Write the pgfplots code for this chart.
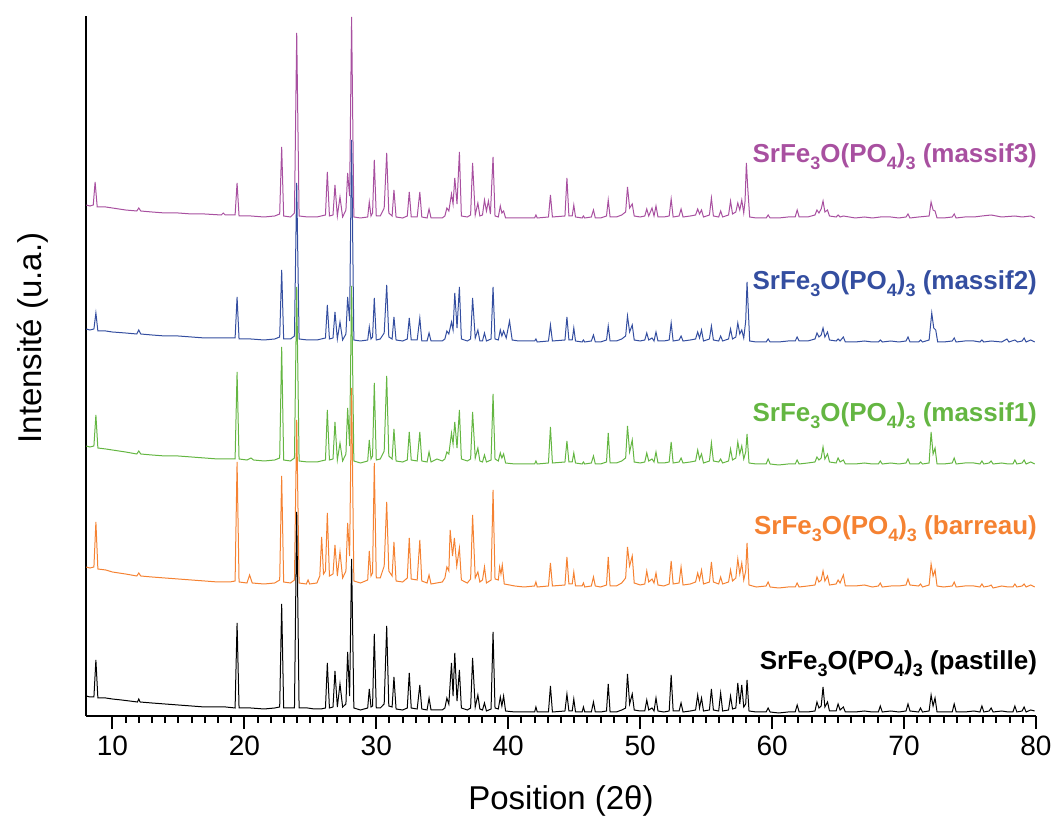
\documentclass[border=0pt]{standalone}
\usepackage{fontspec}
\setmainfont{Liberation Sans}
\usepackage{pgfplots}
\pgfplotsset{compat=1.18}
\definecolor{cmag}{RGB}{168,80,160}
\definecolor{cblue}{RGB}{52,78,160}
\definecolor{cgreen}{RGB}{100,182,66}
\definecolor{corange}{RGB}{245,130,50}
\newcommand{\sub}[1]{\raisebox{-0.45ex}{\fontsize{9}{10}\selectfont #1}}
\begin{document}
\begin{tikzpicture}
\useasboundingbox (-43pt,-54pt) rectangle (484.5pt,358pt);
\begin{axis}[
 scale only axis, width=475pt, height=350pt,
 xmin=8, xmax=80, ymin=0, ymax=700,
 axis x line*=bottom, axis y line*=left,
 axis line style={line width=1.3pt,-},
 xtick={10,20,...,80}, minor x tick num=9, ytick=\empty,
 tick align=outside,
 major tick length=6.5pt, minor tick length=3.5pt,
 every tick/.style={black, line width=1pt},
 tick label style={font=\fontsize{14}{15}\selectfont},
 /pgf/number format/assume math mode=true,
 xlabel={Position (2θ)}, ylabel={Intensité (u.a.)},
 label style={font=\fontsize{16.5}{19}\selectfont},
 xlabel style={at={(axis description cs:0.5,-0.122)}, anchor=center},
 ylabel style={at={(axis description cs:-0.056,0.54)}, anchor=center},
 every axis plot/.append style={line width=0.5pt},
]
% massif3
\addplot[cmag] coordinates {(8.02,511) (8.3,510) (8.55,511) (8.69,534) (8.85,509) (9.5,509) (10,508) (11,506) (11.85,505) (12.0,508) (12.15,505) (13,504) (14,503) (15,503) (16,502) (17,502) (18.25,501) (18.4,503) (18.55,501) (19.3,501) (19.45,533) (19.6,500) (20.5,500) (21.5,499) (22.3,500) (22.68,502) (22.83,569) (22.98,500) (23.5,499) (23.8,503) (23.97,683) (24.15,500) (24.8,499) (25.5,499) (26.15,501) (26.29,544) (26.45,500) (26.72,501) (26.87,531) (27.05,500) (27.25,519) (27.45,499) (27.7,506) (27.83,543) (27.98,520) (28.13,699) (28.3,499) (28.8,498) (29.35,499) (29.47,514) (29.6,500) (29.72,503) (29.85,556) (30.0,500) (30.3,500) (30.6,508) (30.79,563) (30.95,503) (31.2,500) (31.34,526) (31.5,499) (32.0,498) (32.35,500) (32.5,524) (32.65,499) (33.1,499) (33.3,524) (33.45,499) (33.85,498) (34.0,507) (34.15,498) (35.0,498) (35.2,500) (35.35,508) (35.5,505) (35.7,522) (35.82,512) (35.95,538) (36.12,512) (36.3,564) (36.45,500) (36.9,499) (37.15,501) (37.3,553) (37.5,501) (37.7,513) (37.85,500) (38.05,501) (38.2,516) (38.35,505) (38.5,515) (38.65,502) (38.85,559) (39.0,500) (39.25,499) (39.4,510) (39.52,503) (39.65,505) (39.8,498) (40.5,498) (41.2,498) (42.0,498) (42.1,501) (42.2,498) (43.05,499) (43.2,521) (43.35,499) (44.3,500) (44.45,538) (44.6,500) (44.85,500) (44.97,511) (45.1,499) (45.6,498) (45.7,500) (45.8,498) (46.3,499) (46.46,506) (46.6,498) (47.0,498) (47.45,500) (47.58,516) (47.72,499) (48.2,499) (48.6,501) (48.9,504) (49.04,529) (49.2,508) (49.4,512) (49.55,500) (50.0,499) (50.35,500) (50.5,507) (50.65,500) (50.9,508) (51.05,500) (51.2,510) (51.35,499) (51.8,499) (52.2,500) (52.35,517) (52.5,499) (52.95,500) (53.1,507) (53.25,499) (53.8,500) (54.2,501) (54.36,507) (54.5,502) (54.65,506) (54.8,499) (55.25,501) (55.4,518) (55.55,500) (55.95,499) (56.1,505) (56.25,499) (56.7,501) (56.85,515) (57.0,502) (57.25,504) (57.4,513) (57.55,506) (57.7,516) (57.85,503) (57.95,515) (58.05,553) (58.15,529) (58.3,499) (58.8,498) (59.55,498) (59.7,501) (59.85,498) (60.5,498) (61.2,499) (61.75,499) (61.9,506) (62.05,499) (62.7,499) (63.25,501) (63.4,506) (63.55,503) (63.72,507) (63.86,515) (64.0,504) (64.2,506) (64.35,500) (64.85,499) (65.0,501) (65.15,499) (65.4,500) (66.3,498) (67.0,499) (67.6,498) (68.2,499) (69.0,499) (69.6,498) (70.15,499) (70.3,502) (70.45,498) (71.1,499) (71.9,500) (72.05,514) (72.2,506) (72.35,505) (72.5,498) (73.0,498) (73.65,499) (73.8,502) (73.95,498) (74.6,499) (75.3,499) (75.9,500) (76.6,501) (77.4,499) (78.4,500) (78.95,499) (79.6,500) (79.9,498)};
% massif2
\addplot[cblue] coordinates {(8.02,387) (8.3,386) (8.6,387) (8.75,403) (8.9,385) (9.5,385) (10,384) (11,383) (11.85,382) (12.0,386) (12.15,382) (13,381) (14,380) (15,380) (16,379) (17,378) (18,378) (18.9,378) (19.3,378) (19.45,419) (19.6,377) (20.5,377) (21.5,376) (22.3,377) (22.68,379) (22.83,446) (22.98,377) (23.5,377) (23.8,380) (23.97,533) (24.15,377) (24.8,376) (25.5,376) (26.15,378) (26.29,411) (26.45,377) (26.72,378) (26.87,404) (27.05,377) (27.25,394) (27.45,376) (27.7,382) (27.83,419) (27.98,395) (28.13,576) (28.3,376) (28.8,375) (29.35,376) (29.47,389) (29.6,377) (29.72,379) (29.85,418) (30.0,376) (30.3,377) (30.6,383) (30.79,431) (30.95,379) (31.2,377) (31.34,399) (31.5,376) (32.0,375) (32.35,377) (32.5,398) (32.65,376) (33.1,376) (33.3,398) (33.45,375) (33.85,375) (34.0,383) (34.15,375) (35.0,375) (35.2,377) (35.35,385) (35.5,382) (35.7,394) (35.82,386) (35.95,423) (36.12,388) (36.3,429) (36.45,377) (36.9,375) (37.15,377) (37.3,418) (37.5,378) (37.7,386) (37.85,375) (38.05,375) (38.2,383) (38.35,375) (38.7,377) (38.85,429) (39.0,377) (39.25,376) (39.4,386) (39.52,380) (39.65,385) (39.85,378) (40.1,395) (40.3,376) (40.8,375) (41.5,375) (42.0,375) (42.1,377) (42.2,374) (43.05,375) (43.2,391) (43.35,375) (44.3,376) (44.45,399) (44.6,376) (44.85,376) (44.97,388) (45.1,375) (45.6,374) (45.7,376) (45.8,374) (46.3,375) (46.46,381) (46.6,374) (47.0,374) (47.45,376) (47.58,390) (47.72,375) (48.2,375) (48.6,377) (48.9,380) (49.04,400) (49.2,384) (49.4,391) (49.55,376) (50.0,375) (50.35,376) (50.5,383) (50.65,376) (50.9,378) (51.05,375) (51.2,384) (51.35,375) (51.8,375) (52.2,376) (52.35,393) (52.5,375) (52.95,376) (53.1,380) (53.25,375) (53.8,376) (54.2,377) (54.36,384) (54.5,378) (54.65,386) (54.8,375) (55.25,377) (55.4,390) (55.55,376) (55.95,375) (56.1,380) (56.25,375) (56.7,377) (56.85,387) (57.0,377) (57.25,379) (57.4,393) (57.55,382) (57.7,386) (57.85,378) (58.0,395) (58.1,434) (58.2,405) (58.3,375) (58.8,374) (59.55,374) (59.7,377) (59.85,374) (60.5,374) (61.2,375) (61.75,375) (61.9,379) (62.05,375) (62.7,375) (63.25,377) (63.4,383) (63.55,379) (63.72,381) (63.86,388) (64.0,379) (64.2,384) (64.35,376) (64.85,375) (65.0,377) (65.15,375) (65.4,379) (65.55,374) (66.3,374) (67.0,375) (67.6,374) (68.05,374) (68.2,376) (68.35,374) (69.0,375) (69.6,374) (70.15,375) (70.3,379) (70.45,374) (71.1,374) (71.25,376) (71.4,374) (71.9,376) (72.1,403) (72.25,388) (72.4,386) (72.55,374) (73.0,374) (73.65,375) (73.8,378) (73.95,374) (74.6,375) (75.3,375) (75.75,374) (75.9,376) (76.05,374) (76.6,375) (77.4,374) (77.8,377) (77.95,374) (78.4,376) (78.6,374) (78.95,375) (79.1,378) (79.25,374) (79.6,376) (79.9,374)};
% massif1
\addplot[cgreen] coordinates {(8.02,270) (8.3,269) (8.6,270) (8.75,301) (8.9,268) (9.5,267) (10,266) (11,264) (11.85,262) (12.0,265) (12.15,262) (13,261) (14,260) (15,260) (16,259) (17,258) (18,257) (18.9,257) (19.3,257) (19.45,344) (19.6,257) (20.2,256) (20.5,258) (20.7,256) (21.5,255) (22.3,256) (22.68,258) (22.83,369) (22.98,256) (23.5,255) (23.8,258) (23.97,429) (24.15,255) (24.8,254) (25.5,254) (26.15,256) (26.29,306) (26.45,256) (26.72,257) (26.87,294) (27.05,256) (27.25,273) (27.45,255) (27.7,262) (27.83,308) (27.98,270) (28.13,430) (28.3,255) (28.8,253) (29.35,255) (29.47,276) (29.6,257) (29.72,260) (29.85,333) (30.0,256) (30.3,257) (30.6,265) (30.79,340) (30.95,260) (31.2,257) (31.34,287) (31.5,255) (32.0,254) (32.35,256) (32.5,284) (32.65,256) (33.1,255) (33.3,284) (33.45,255) (33.85,254) (34.0,264) (34.15,254) (34.6,257) (35.0,255) (35.2,257) (35.35,264) (35.5,262) (35.7,283) (35.82,272) (35.95,294) (36.12,268) (36.3,306) (36.45,257) (36.9,255) (37.15,257) (37.3,304) (37.5,258) (37.7,268) (37.85,255) (38.05,254) (38.2,261) (38.35,254) (38.7,256) (38.85,322) (39.0,257) (39.25,255) (39.4,263) (39.52,258) (39.65,262) (39.8,253) (40.5,252) (41.2,252) (42.0,252) (42.1,255) (42.2,252) (43.05,253) (43.2,289) (43.35,253) (44.3,254) (44.45,275) (44.6,254) (44.85,254) (44.97,263) (45.1,253) (45.6,252) (45.7,254) (45.8,252) (46.3,253) (46.46,260) (46.6,252) (47.0,252) (47.45,254) (47.58,283) (47.72,253) (48.2,253) (48.6,255) (48.9,258) (49.04,290) (49.2,264) (49.4,276) (49.55,254) (50.0,253) (50.35,254) (50.5,263) (50.65,255) (50.9,257) (51.05,254) (51.2,264) (51.35,253) (51.8,253) (52.2,254) (52.35,274) (52.5,253) (52.95,254) (53.1,258) (53.25,253) (53.8,254) (54.2,255) (54.36,266) (54.5,257) (54.65,262) (54.8,253) (55.25,255) (55.4,273) (55.55,255) (55.95,254) (56.1,257) (56.25,253) (56.7,255) (56.85,267) (57.0,256) (57.25,258) (57.4,274) (57.55,262) (57.7,270) (57.85,257) (58.0,264) (58.1,282) (58.25,253) (58.8,252) (59.55,252) (59.7,257) (59.85,252) (60.5,251) (61.2,252) (61.75,252) (61.9,256) (62.05,252) (62.7,253) (63.25,254) (63.4,259) (63.55,256) (63.72,258) (63.86,269) (64.0,257) (64.2,262) (64.35,254) (64.85,253) (65.0,258) (65.15,254) (65.4,256) (65.55,252) (66.3,252) (67.0,253) (67.6,252) (68.05,252) (68.2,255) (68.35,252) (69.0,253) (69.6,252) (70.15,253) (70.3,257) (70.45,252) (71.1,252) (71.25,254) (71.4,252) (71.9,253) (72.05,284) (72.2,262) (72.35,268) (72.5,252) (73.0,252) (73.65,253) (73.8,258) (73.95,252) (74.6,253) (75.3,253) (75.75,252) (75.9,255) (76.05,252) (76.45,253) (76.6,255) (76.75,252) (77.4,253) (77.9,252) (78.25,252) (78.4,256) (78.55,252) (78.95,253) (79.1,256) (79.25,252) (79.6,254) (79.9,252)};
% barreau
\addplot[corange] coordinates {(8.02,149) (8.3,148) (8.6,149) (8.75,194) (8.9,147) (9.5,146) (10,144) (11,142) (11.85,140) (12.0,143) (12.15,140) (13,139) (14,138) (15,137) (16,136) (17,135) (18,134) (18.9,134) (19.3,135) (19.45,254) (19.6,134) (20.2,133) (20.4,141) (20.6,133) (21.5,132) (22.3,133) (22.68,136) (22.83,240) (22.98,134) (23.5,133) (23.8,136) (23.97,296) (24.15,133) (24.7,132) (24.83,136) (24.95,132) (25.5,133) (25.72,140) (25.86,179) (26.0,142) (26.15,145) (26.29,203) (26.45,140) (26.72,142) (26.87,171) (27.05,140) (27.25,164) (27.45,138) (27.7,145) (27.83,193) (27.98,160) (28.13,328) (28.3,135) (28.8,133) (29.35,136) (29.47,165) (29.6,140) (29.72,143) (29.85,253) (30.0,138) (30.3,138) (30.6,150) (30.79,214) (30.95,145) (31.2,140) (31.34,174) (31.5,135) (32.0,134) (32.35,138) (32.5,178) (32.65,137) (33.1,136) (33.3,176) (33.45,135) (33.85,133) (34.0,141) (34.15,132) (35.0,134) (35.2,138) (35.35,149) (35.5,145) (35.6,186) (35.78,160) (35.92,178) (36.1,150) (36.3,168) (36.45,136) (36.9,133) (37.15,137) (37.3,201) (37.5,138) (37.7,144) (37.85,134) (38.05,136) (38.2,149) (38.35,133) (38.7,136) (38.85,226) (39.0,137) (39.25,136) (39.35,149) (39.45,142) (39.55,151) (39.7,132) (40.5,130) (41.2,129) (42.0,130) (42.1,134) (42.2,129) (43.05,130) (43.2,153) (43.35,130) (44.3,131) (44.45,159) (44.6,132) (44.85,132) (44.97,144) (45.1,130) (45.6,130) (45.7,133) (45.8,129) (46.3,130) (46.46,139) (46.6,130) (47.0,129) (47.45,131) (47.58,159) (47.72,130) (48.2,130) (48.6,133) (48.9,138) (49.04,169) (49.2,150) (49.4,160) (49.55,133) (50.0,131) (50.35,132) (50.5,145) (50.65,134) (50.9,137) (51.05,133) (51.2,143) (51.35,131) (51.8,130) (52.2,132) (52.35,155) (52.5,132) (52.95,133) (53.1,149) (53.25,131) (53.8,132) (54.2,134) (54.36,143) (54.5,136) (54.65,146) (54.8,132) (55.25,134) (55.4,154) (55.55,134) (55.95,132) (56.1,139) (56.25,132) (56.7,134) (56.85,146) (57.0,135) (57.25,138) (57.4,157) (57.55,142) (57.7,153) (57.85,136) (58.0,145) (58.1,173) (58.25,131) (58.8,129) (59.55,130) (59.7,134) (59.85,129) (60.5,128) (61.2,129) (61.75,129) (61.9,133) (62.05,129) (62.7,130) (63.25,131) (63.4,139) (63.55,134) (63.72,136) (63.86,145) (64.0,135) (64.2,140) (64.35,131) (64.85,132) (65.0,136) (65.15,133) (65.4,141) (65.55,130) (66.3,130) (67.0,131) (67.6,129) (68.05,130) (68.2,133) (68.35,129) (69.0,130) (69.6,130) (70.15,131) (70.3,137) (70.45,131) (71.1,130) (71.25,132) (71.4,129) (71.9,131) (72.05,152) (72.2,140) (72.35,146) (72.5,130) (73.0,129) (73.65,130) (73.8,134) (73.95,129) (74.6,130) (75.3,130) (75.75,129) (75.9,132) (76.05,129) (76.45,130) (76.6,131) (76.75,128) (77.4,130) (77.9,129) (78.25,129) (78.4,132) (78.55,129) (78.95,130) (79.1,132) (79.25,129) (79.6,131) (79.9,129)};
% pastille
\addplot[black] coordinates {(8.02,20) (8.3,19) (8.6,19) (8.75,56) (8.9,18) (9.5,18) (10,17) (10.7,16) (11.3,15) (11.9,14) (12.0,17) (12.1,14) (13,13) (14,12) (15,11) (16,10) (17,9) (18,9) (18.6,9) (19.3,8) (19.45,93) (19.6,8) (20.5,8) (21.5,7) (22.3,8) (22.68,9) (22.83,112) (22.98,8) (23.5,8) (23.8,8) (23.97,204) (24.15,8) (24.8,8) (25.3,7) (25.8,7) (26.15,8) (26.29,53) (26.45,8) (26.72,9) (26.87,45) (27.05,9) (27.25,32) (27.45,9) (27.7,12) (27.83,64) (27.98,20) (28.13,157) (28.3,8) (28.8,6) (29.35,8) (29.47,27) (29.6,9) (29.72,10) (29.85,82) (30.0,8) (30.3,8) (30.6,12) (30.79,90) (30.95,10) (31.2,9) (31.34,39) (31.5,7) (32.0,6) (32.35,8) (32.5,43) (32.65,8) (33.1,7) (33.3,31) (33.45,7) (33.85,6) (34.0,18) (34.15,6) (35.0,6) (35.2,8) (35.35,18) (35.5,12) (35.7,53) (35.82,20) (35.95,63) (36.12,15) (36.3,46) (36.45,8) (36.9,6) (37.15,8) (37.3,58) (37.5,9) (37.7,21) (37.85,7) (38.05,6) (38.2,13) (38.35,5) (38.7,7) (38.85,84) (39.0,8) (39.25,7) (39.4,19) (39.52,10) (39.65,20) (39.8,5) (40.5,4) (41.2,4) (42.0,4) (42.1,9) (42.2,4) (43.05,4) (43.2,30) (43.35,4) (44.3,5) (44.45,22) (44.6,5) (44.85,5) (44.97,17) (45.1,4) (45.6,4) (45.7,9) (45.8,4) (46.3,4) (46.46,14) (46.6,4) (47.0,4) (47.45,5) (47.58,32) (47.72,4) (48.2,4) (48.6,6) (48.9,8) (49.04,42) (49.2,12) (49.4,22) (49.55,6) (50.0,5) (50.35,5) (50.5,16) (50.65,6) (50.9,8) (51.05,5) (51.2,18) (51.35,5) (51.8,4) (52.2,5) (52.35,41) (52.5,5) (52.95,5) (53.1,13) (53.25,4) (53.8,5) (54.2,6) (54.36,21) (54.5,8) (54.65,18) (54.8,5) (55.25,6) (55.4,27) (55.55,6) (55.95,5) (56.1,23) (56.25,5) (56.7,6) (56.85,20) (57.0,7) (57.25,8) (57.4,33) (57.55,12) (57.7,31) (57.85,9) (58.0,12) (58.1,36) (58.25,5) (58.8,4) (59.55,4) (59.7,8) (59.85,4) (60.5,3) (61.2,4) (61.75,4) (61.9,11) (62.05,4) (62.7,4) (63.25,5) (63.4,14) (63.55,8) (63.72,10) (63.86,29) (64.0,9) (64.2,14) (64.35,5) (64.85,5) (65.0,12) (65.15,6) (65.4,9) (65.55,4) (66.3,4) (67.0,5) (67.6,4) (68.05,4) (68.2,10) (68.35,4) (69.0,5) (69.6,4) (70.15,5) (70.3,12) (70.45,5) (71.1,4) (71.25,8) (71.4,4) (71.9,5) (72.05,21) (72.2,10) (72.35,18) (72.5,4) (73.0,4) (73.65,4) (73.8,12) (73.95,4) (74.6,4) (75.3,5) (75.75,4) (75.9,10) (76.05,4) (76.45,5) (76.6,8) (76.75,4) (77.4,5) (77.9,4) (78.25,4) (78.4,10) (78.55,4) (78.95,5) (79.1,9) (79.25,4) (79.6,6) (79.9,5)};
\begin{scope}[every node/.style={anchor=base east, inner sep=0pt, font=\fontsize{13}{15}\selectfont\bfseries}]
\node[text=cmag] at (axis cs:80.1,553) {SrFe\sub{3}O(PO\sub{4})\sub{3} (massif3)};
\node[text=cblue] at (axis cs:80.1,426) {SrFe\sub{3}O(PO\sub{4})\sub{3} (massif2)};
\node[text=cgreen] at (axis cs:80.1,294) {SrFe\sub{3}O(PO\sub{4})\sub{3} (massif1)};
\node[text=corange] at (axis cs:80.1,181) {SrFe\sub{3}O(PO\sub{4})\sub{3} (barreau)};
\node[text=black] at (axis cs:80.1,46) {SrFe\sub{3}O(PO\sub{4})\sub{3} (pastille)};
\end{scope}
\end{axis}
\end{tikzpicture}
\end{document}
